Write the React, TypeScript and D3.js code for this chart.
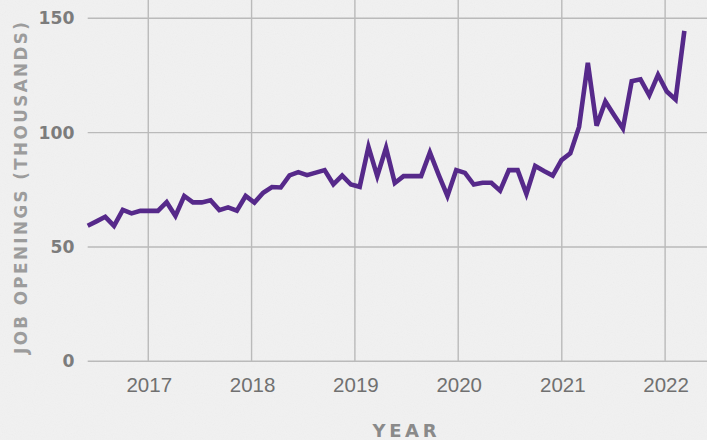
import React from "react";
import * as d3 from "d3";

const START_DATE = "2016-06-01";
const STEP_DAYS = 31;
const openings: number[] = [
  59.3, 61.2, 63.2, 59.2, 66.2, 64.7, 65.8, 65.8, 65.8, 69.6,
  63.6, 72.3, 69.5, 69.5, 70.4, 66.1, 67.3, 65.9, 72.3, 69.4,
  73.7, 76.2, 76.0, 81.3, 82.7, 81.4, 82.5, 83.6, 77.4, 81.2,
  77.3, 76.3, 93.8, 81.0, 93.4, 78.0, 81.0, 81.0, 81.0, 91.3,
  81.5, 72.3, 83.6, 82.4, 77.3, 78.1, 78.1, 74.6, 83.6, 83.6,
  73.2, 85.4, 83.2, 81.2, 88.0, 90.9, 102.5, 130.5, 103.0, 113.6,
  107.6, 101.8, 122.5, 123.3, 116.3, 125.3, 118.0, 114.5, 144.5,
];
const yTicks: number[] = [0, 50, 100, 150];
const xTickYears: number[] = [2017, 2018, 2019, 2020, 2021, 2022];
const yTitle = "JOB OPENINGS (THOUSANDS)";
const xTitle = "YEAR";

const W = 707;
const H = 440;

export default function App() {
  const start = d3.isoParse(START_DATE + "T00:00:00Z") as Date;
  const data = openings.map((v, i) => ({
    date: d3.utcDay.offset(start, STEP_DAYS * i),
    value: v,
  }));

  const x = d3
    .scaleUtc()
    .domain([start, new Date(Date.UTC(2022, 4, 29))])
    .range([87.7, 707]);
  const y = d3.scaleLinear().domain([0, 150]).range([361.3, 18.3]);

  const line = d3
    .line<{ date: Date; value: number }>()
    .x((d) => x(d.date))
    .y((d) => y(d.value));

  const xTicks = xTickYears.map((yr) => new Date(Date.UTC(yr, 0, 1)));
  const gridColor = "#bababa";

  return (
    <svg
      width={W}
      height={H}
      style={{ position: "absolute", left: 0, top: 0, display: "block" }}
    >
      <defs>
        <filter id="paper" x="0" y="0" width="100%" height="100%">
          <feTurbulence type="fractalNoise" baseFrequency="0.9" numOctaves={2} seed={3} />
          <feColorMatrix type="saturate" values="0" />
          <feComponentTransfer>
            <feFuncA type="linear" slope="0.06" />
          </feComponentTransfer>
        </filter>
      </defs>
      <rect x={0} y={0} width={W} height={H} fill="#f1f1f1" />
      <rect x={0} y={0} width={W} height={H} filter="url(#paper)" />

      {/* vertical grid */}
      {xTicks.map((t, i) => (
        <line
          key={"vx" + i}
          x1={x(t)}
          x2={x(t)}
          y1={0}
          y2={y(0)}
          stroke={gridColor}
          strokeWidth={1.4}
        />
      ))}
      {/* horizontal grid */}
      {yTicks.map((t) => (
        <line
          key={"hy" + t}
          x1={x.range()[0]}
          x2={W}
          y1={y(t)}
          y2={y(t)}
          stroke={gridColor}
          strokeWidth={1.4}
        />
      ))}

      {/* y tick labels */}
      {yTicks.map((t) => (
        <text
          key={"yl" + t}
          x={74.5}
          y={y(t)}
          dy="0.36em"
          textAnchor="end"
          fontFamily="'DejaVu Sans', sans-serif"
          fontWeight="bold"
          fontSize={17.2}
          fill="#7c7c7c"
        >
          {t}
        </text>
      ))}

      {/* x tick labels */}
      {xTicks.map((t, i) => (
        <text
          key={"xl" + i}
          x={x(t) + 1}
          y={392}
          textAnchor="middle"
          fontFamily="'Liberation Sans', Arial, sans-serif"
          fontSize={20.5}
          fill="#707070"
        >
          {xTickYears[i]}
        </text>
      ))}

      {/* axis titles */}
      <text
        transform={`translate(26.8, 188) rotate(-90)`}
        textAnchor="middle"
        fontFamily="'DejaVu Sans', sans-serif"
        fontWeight="bold"
        fontSize={16.8}
        fill="#9c9c9c"
        textLength={332}
        lengthAdjust="spacing"
      >
        {yTitle}
      </text>
      <text
        x={404.5}
        y={437}
        textAnchor="middle"
        fontFamily="'DejaVu Sans', sans-serif"
        fontWeight="bold"
        fontSize={18}
        fill="#8a8a8a"
        textLength={64}
        lengthAdjust="spacing"
      >
        {xTitle}
      </text>

      {/* data line */}
      <path
        d={line(data) || ""}
        fill="none"
        stroke="#56298a"
        strokeWidth={4.6}
        strokeLinejoin="miter"
      />
    </svg>
  );
}
